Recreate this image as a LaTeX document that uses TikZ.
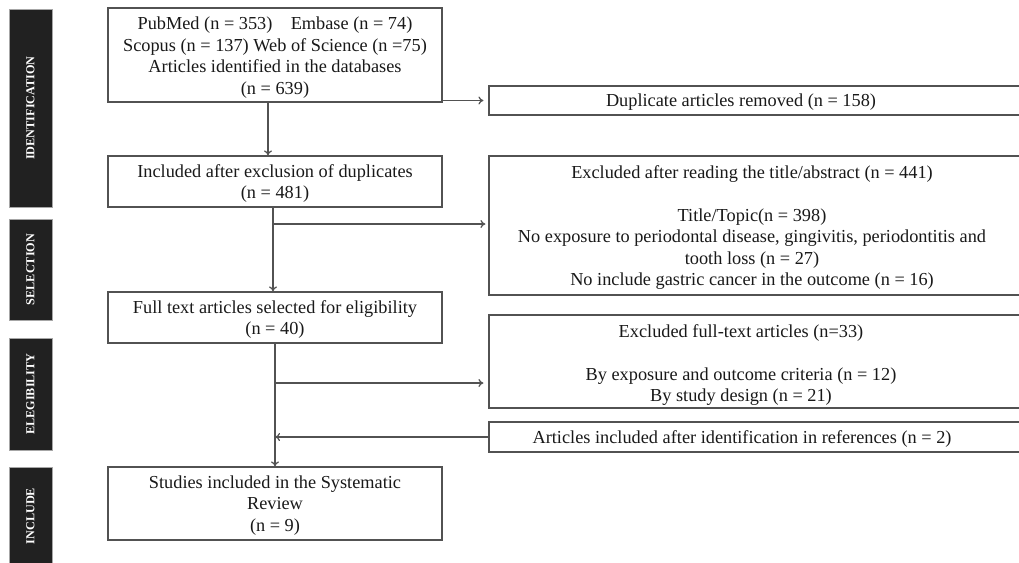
\documentclass[tikz,border=0pt]{standalone}
\usepackage{fontspec}
\setmainfont{Liberation Serif}
\usetikzlibrary{arrows.meta,calc}
\definecolor{ln}{gray}{0.32}
\definecolor{barfill}{gray}{0.13}
\tikzset{
  box/.style={draw=ln, line width=1.2pt, inner sep=0pt, align=center,
    font=\fontsize{18.3}{21.5}\selectfont, text=black!90},
  txt/.style={align=center, font=\fontsize{18.3}{21.5}\selectfont, inner sep=0pt, text=black!90},
  sidebar/.style={fill=barfill, draw=black!35, line width=0.6pt, inner sep=0pt,
    text=white, rotate=90, font=\fontsize{12.2}{13}\selectfont\bfseries},
  conn/.style={draw=ln, line width=1.2pt},
  arr/.style={conn, -{To[length=5pt,width=8pt]}},
}
\begin{document}
\begin{tikzpicture}[x=1pt,y=-1pt]
\clip (0,0) rectangle (1019,562);
\fill[white] (0,0) rectangle (1019,562);

% side bars
\node[sidebar, minimum width=198, minimum height=43] (sid) at (30.5,108) {IDENTIFICATION};
\node[sidebar, minimum width=101, minimum height=43] (sse) at (30.5,269.5) {SELECTION};
\node[sidebar, minimum width=112, minimum height=43] (sel) at (30.5,394) {ELEGIBILITY};
\node[sidebar, minimum width=98, minimum height=43] (sin) at (30.5,516) {INCLUDE};

% left boxes
\node[box, minimum width=334, minimum height=94] (b1) at (275,55) {};
\node[txt] (b1t) at (275,57.5)
  {PubMed (n = 353)\quad Embase (n = 74)\\Scopus (n = 137) Web of Science (n =75)\\Articles identified in the databases\\(n = 639)};
\node[box, minimum width=334, minimum height=51] (b2) at (275,181.5) {};
\node[txt] (b2t) at (275,183.5) {Included after exclusion of duplicates\\(n = 481)};
\node[box, minimum width=334, minimum height=51] (b3) at (275,317.5) {};
\node[txt] (b3t) at (275,319.5) {Full text articles selected for eligibility\\(n = 40)};
\node[box, minimum width=334, minimum height=73] (b4) at (275,503.5) {};
\node[txt] (b4t) at (275,505.5) {Studies included in the Systematic\\Review\\(n = 9)};

% right boxes
\node[box, minimum width=551, minimum height=29] (dup) at (764.5,100.5) {};
\node[txt] (dupt) at (741,102) {Duplicate articles removed (n = 158)};

\node[box, minimum width=551, minimum height=139] (excl) at (764.5,225.5) {};
\node[txt] (exclt) at (752,227.5) {Excluded after reading the title/abstract (n = 441)\\[21.5pt]
  Title/Topic(n = 398)\\No exposure to periodontal disease, gingivitis, periodontitis and\\tooth loss (n = 27)\\No include gastric cancer in the outcome (n = 16)};

\node[box, minimum width=551, minimum height=93] (exft) at (764.5,361.5) {};
\node[txt] (exftt) at (741,365) {Excluded full-text articles (n=33)\\[21.5pt]
  By exposure and outcome criteria (n = 12)\\By study design (n = 21)};

\node[box, minimum width=551, minimum height=30] (art) at (764.5,437) {};
\node[txt] (artt) at (742,439) {Articles included after identification in references (n = 2)};

% connectors
\draw[arr, shorten >=5pt] (b1.east |- dup.west) -- (dup.west);
\draw[arr] ([xshift=-7pt]b1.south) -- ([xshift=-7pt]b1.south |- b2.north);
\draw[arr] ([xshift=-2pt]b2.south) -- ([xshift=-2pt]b2.south |- b3.north);
\coordinate (c1) at (273,224);
\draw[arr, shorten >=3pt] (c1) -- (c1 -| excl.west);
\draw[arr] (b3.south) -- (b4.north);
\coordinate (c2) at (275,383);
\draw[arr, shorten >=5pt] (c2) -- (c2 -| exft.west);
\draw[arr] (art.west) -- (art.west -| b3.south);
\end{tikzpicture}
\end{document}
